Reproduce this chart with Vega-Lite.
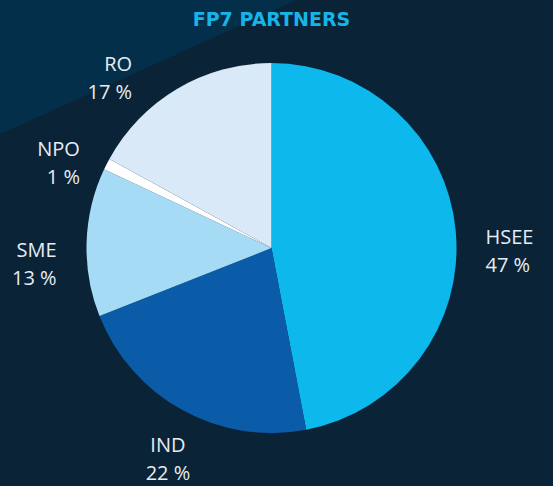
{
  "$schema": "https://vega.github.io/schema/vega-lite/v6.json",
  "width": 553,
  "height": 486,
  "autosize": "none",
  "padding": 0,
  "background": "#0a2337",
  "view": {
    "stroke": null,
    "fill": {
      "gradient": "linear",
      "x1": 0, "y1": 0, "x2": 0.515, "y2": 1,
      "stops": [
        {"offset": 0, "color": "#032f4a"},
        {"offset": 0.218, "color": "#032f4a"},
        {"offset": 0.2181, "color": "#0a2337"},
        {"offset": 1, "color": "#0a2337"}
      ]
    }
  },
  "title": {
    "text": "FP7 PARTNERS",
    "offset": -30,
    "frame": "group",
    "anchor": "middle",
    "dx": -5,
    "font": "DejaVu Sans",
    "fontSize": 19,
    "fontWeight": "bold",
    "color": "#17b5e7"
  },
  "data": {
    "values": [
      {"category": "HSEE", "value": 47, "rank": 1, "label": "HSEE\n47 %"},
      {"category": "IND", "value": 22, "rank": 2, "label": "IND\n22 %"},
      {"category": "SME", "value": 13, "rank": 3, "label": "SME\n13 %"},
      {"category": "NPO", "value": 1, "rank": 4, "label": "NPO\n1 %"},
      {"category": "RO", "value": 17, "rank": 5, "label": "RO\n17 %"}
    ]
  },
  "encoding": {
    "theta": {"field": "value", "type": "quantitative", "stack": true},
    "order": {"field": "rank", "type": "quantitative"},
    "color": {
      "field": "category",
      "type": "nominal",
      "scale": {
        "domain": ["HSEE", "IND", "SME", "NPO", "RO"],
        "range": ["#0cb8ec", "#0a5ca8", "#a6dbf6", "#ffffff", "#d9e9f8"]
      },
      "legend": null
    }
  },
  "layer": [
    {
      "mark": {"type": "arc", "outerRadius": 185, "xOffset": -5, "yOffset": 5, "stroke": null}
    },
    {
      "mark": {
        "type": "text",
        "radius": 215,
        "xOffset": -5,
        "yOffset": 5,
        "font": "Open Sans",
        "fontSize": 20,
        "lineHeight": 28,
        "lineBreak": "\n",
        "dx": {"expr": "(datum.value_start + datum.value_end) / 2 > 88 ? -30 : 0"},
        "dy": {"expr": "(datum.value_start + datum.value_end) / 2 > 88 ? -8 : 0"},
        "baseline": {"expr": "(datum.value_start + datum.value_end) / 2 > 78 && (datum.value_start + datum.value_end) / 2 < 88 ? 'middle' : 'top'"},
        "align": {"expr": "(datum.value_start + datum.value_end) / 2 < 50 ? 'left' : ((datum.value_start + datum.value_end) / 2 < 65 ? 'center' : 'right')"},
        "color": "#e6edf2"
      },
      "encoding": {
        "text": {"field": "label", "type": "nominal"},
        "color": {"value": "#e6edf2"}
      }
    }
  ]
}
